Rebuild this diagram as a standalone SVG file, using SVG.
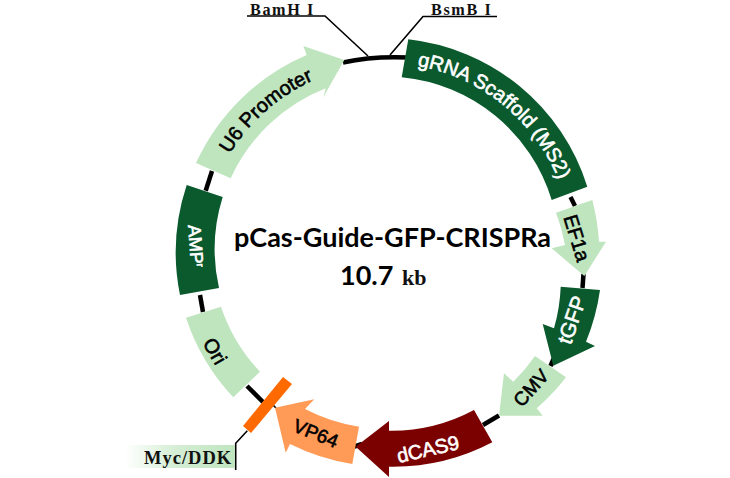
<svg xmlns="http://www.w3.org/2000/svg" width="730" height="478" viewBox="0 0 730 478">
  <style>
    .light { fill: #bfe5bf; }
    .dark { fill: #0b5a2e; }
    .ring { fill: none; stroke: #000; stroke-width: 4.5; }
    .lead { fill: none; stroke: #000; stroke-width: 1.6; }
    .lab { font-family: "Liberation Sans", Arial, sans-serif; font-size: 20px; stroke-width: 0.6; text-anchor: middle; }
    .blk { fill: #000; stroke: #000; }
    .wht { fill: #fff; stroke: #fff; }
    .site { font-family: "Liberation Serif", "Times New Roman", serif; font-weight: bold; font-size: 16.2px; fill: #111; letter-spacing: 1.6px; }
    .tag { font-size: 18.5px; letter-spacing: 1px; }
    .title { font-family: Lato, "Open Sans", sans-serif; font-weight: bold; fill: #000; font-size: 27px; }
  </style>
  <defs>
    <linearGradient id="tagFill" x1="0" y1="0" x2="1" y2="0">
      <stop offset="0" stop-color="#bfe5bf" stop-opacity="0"/>
      <stop offset="0.45" stop-color="#bfe5bf" stop-opacity="0.65"/>
      <stop offset="1" stop-color="#bfe5bf"/>
    </linearGradient>
    <path id="u6Arc" d="M207.4 207.5 A188 188 0 0 1 369.4 65.1"/>
    <path id="gRnaArc" d="M385 63 A187 187 0 0 1 567.9 211.1"/>
  </defs>

  <g id="connectors">
    <path class="ring" d="M343 62.5 Q372 56 408 57.5"/>
    <path class="ring" d="M212 171 L205.7 190.7"/>
    <path class="ring" d="M200 295 L203 312"/>
    <path class="ring" d="M247 386 L263 402"/>
    <path class="ring" d="M570.5 197 L575 206"/>
    <path class="ring" d="M583.5 274 L582.5 288"/>
    <path class="ring" d="M553.5 359 L550.5 366"/>
    <path class="ring" d="M499 415.5 L483 425"/>
    <path class="ring" d="M353 447 L362 444"/>
    <path class="lead" d="M276 408 L272 404"/>
    <path class="lead" d="M247 16 L325 16 L368 56"/>
    <path class="lead" d="M497 16.5 L423 16.5 L390 55"/>
    <path class="lead" d="M247.3 430.7 L235.7 443.3 L235.7 470"/>
  </g>

  <g id="site-bamhi"><text class="site" x="250" y="14.5">BamH I</text></g>
  <g id="site-bsmbi"><text class="site" x="431" y="14.5">BsmB I</text></g>

  <g id="u6-promoter">
    <path class="light" d="M196 163 A214 214 0 0 1 306.7 55 L303.3 46 L344.3 60 L323.3 97.3 L325.7 88.3 A175 175 0 0 0 230.7 178.3 Z"/>
    <text class="lab blk"><textPath href="#u6Arc" startOffset="50%">U6 Promoter</textPath></text>
  </g>
  <g id="grna-scaffold">
    <path class="dark" d="M408.3 39.3 A212 212 0 0 1 587.3 186.7 L551.7 200 A174 174 0 0 0 401.7 77.3 Z"/>
    <text class="lab wht"><textPath href="#gRnaArc" startOffset="50%">gRNA Scaffold (MS2)</textPath></text>
  </g>
  <g id="ef1a">
    <path class="light" d="M556 212.7 L592.3 200 A214 214 0 0 1 599 241.7 L606 241.7 L584.3 276 L551.7 248.3 L565 245 A175 175 0 0 0 556 212.7 Z"/>
    <text class="lab blk" transform="translate(577 238) rotate(73)" y="7">EF1a</text>
  </g>
  <g id="tgfp">
    <path class="dark" d="M560.7 286.7 L600 290 A214 214 0 0 1 586 341.7 L595 346 L553.3 365.7 L542.7 324 L554 328.3 A175 175 0 0 0 560.7 286.7 Z"/>
    <text class="lab wht" transform="translate(572 320) rotate(-71)" y="7" style="font-size:21px">tGFP</text>
  </g>
  <g id="cmv">
    <path class="light" d="M535 356 L566 377.3 A214 214 0 0 1 536.7 408.3 L542.7 415.7 L499 415.7 L504 373.3 L513.3 381.7 A175 175 0 0 0 535 356 Z"/>
    <text class="lab blk" transform="translate(531 388) rotate(-48)" y="6.5" style="font-size:19px">CMV</text>
  </g>
  <g id="dcas9">
    <path d="M474 410 L492.3 442.3 A214 214 0 0 1 389 466.7 L389 477 L355.7 446.7 L389 421 L389 430.7 A175 175 0 0 0 474 410 Z" fill="#7b0000"/>
    <text class="lab wht" transform="translate(428 449) rotate(-13)" y="7">dCAS9</text>
  </g>
  <g id="vp64">
    <path d="M359 426.7 L352.3 464 A214 214 0 0 1 290 444 L285.7 452.7 L275 407.7 L314.3 399.3 L305 409 A175 175 0 0 0 359 426.7 Z" fill="#ff9a57"/>
    <text class="lab blk" transform="translate(316 433) rotate(22)" y="7" style="font-size:19px">VP64</text>
  </g>
  <g id="myc-ddk">
    <rect x="125" y="445" width="110" height="23" fill="url(#tagFill)"/>
    <text class="site tag" x="144" y="464">Myc/DDK</text>
    <path d="M283 377 L292 384 L251 433 L243 426 Z" fill="#ff6a00"/>
  </g>
  <g id="ori">
    <path class="light" d="M186 317.7 L221 306.7 A175 175 0 0 0 260 371.7 L233.3 397.3 A214 214 0 0 1 186 317.7 Z"/>
    <text class="lab blk" transform="translate(215 351) rotate(60)" y="7">Ori</text>
  </g>
  <g id="amp">
    <path class="dark" d="M186.7 185 L222.7 197 A175 175 0 0 0 219 288 L180 295 A214 214 0 0 1 186.7 185 Z"/>
    <text class="lab wht" transform="translate(196 246) rotate(86)" y="6.5" style="font-size:18px">AMP<tspan dy="-6" style="font-size:10px">r</tspan></text>
  </g>

  <g id="plasmid-title">
    <text class="title" x="234" y="247">pCas-Guide-GFP-CRISPRa</text>
    <text class="title" x="340" y="285">10.7</text>
    <text class="site" x="402" y="285" style="font-size:22px;letter-spacing:0">kb</text>
  </g>
</svg>
